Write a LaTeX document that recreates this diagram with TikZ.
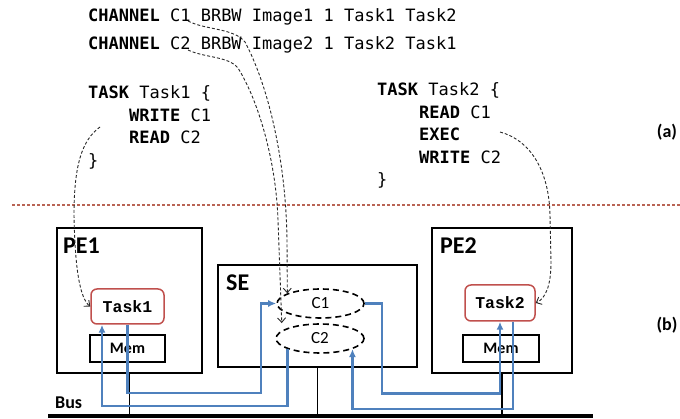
\documentclass[tikz,border=0pt]{standalone}
\usepackage{fontspec}
\setmainfont{Carlito}
\newfontfamily\codefont{DejaVu Sans Mono}
\newfontfamily\taskfont{Liberation Mono}
\usetikzlibrary{arrows.meta,shapes.geometric,calc}
\definecolor{flowblue}{RGB}{79,129,189}
\definecolor{taskred}{RGB}{192,80,77}
\definecolor{sepbrown}{RGB}{185,100,85}
\definecolor{curvegray}{RGB}{40,40,40}
\begin{document}
\begin{tikzpicture}[x=1pt,y=-1pt,
  code/.style={anchor=base west,inner sep=0pt,font=\codefont\fontsize{17}{20}\selectfont},
  unitbox/.style={draw,line width=1.7pt,inner sep=0pt},
  unitlabel/.style={anchor=base west,inner sep=0pt,font=\bfseries\fontsize{24}{26}\selectfont},
  taskbox/.style={draw=taskred,line width=1.5pt,rounded corners=6pt,fill=white,inner sep=0pt,
    font=\taskfont\bfseries\fontsize{16.5}{18}\selectfont},
  membox/.style={draw,line width=1.7pt,inner sep=0pt,minimum height=27pt,font=\bfseries\fontsize{16}{18}\selectfont},
  chan/.style={ellipse,draw,dash pattern=on 6pt off 4pt,line width=1.6pt,inner sep=0pt,
    minimum height=29pt,font=\fontsize{17}{19}\selectfont},
  sidelabel/.style={inner sep=0pt,font=\bfseries\fontsize{18}{20}\selectfont},
  flow/.style={draw=flowblue,line width=2.1pt,-{Latex[length=8pt,width=7pt]}},
  link/.style={line width=1.9pt},
  refcurve/.style={draw=curvegray,line width=0.9pt,dash pattern=on 3pt off 2pt,
    -{Straight Barb[length=4.5pt,width=8pt]}}]
\useasboundingbox (0,0) rectangle (680,419);

% ---- code text (a)
\node[code] (ch1) at (88,22) {\textbf{CHANNEL} C1 BRBW Image1 1 Task1 Task2};
\node[code] (ch2) at (88,50) {\textbf{CHANNEL} C2 BRBW Image2 1 Task2 Task1};
\node[code] (t1a) at (88,99) {\textbf{TASK} Task1 \{};
\node[code] (t1b) at (129,121.5) {\textbf{WRITE} C1};
\node[code] (t1c) at (129,144) {\textbf{READ} C2};
\node[code] (t1d) at (88,166.5) {\}};
\node[code] (t2a) at (377,96) {\textbf{TASK} Task2 \{};
\node[code] (t2b) at (419,118.5) {\textbf{READ} C1};
\node[code] (t2c) at (419,141) {\textbf{EXEC}};
\node[code] (t2d) at (419,163.5) {\textbf{WRITE} C2};
\node[code] (t2e) at (377,186) {\}};
\node[sidelabel] (la) at (667,132) {(a)};
\node[sidelabel] (lb) at (667,325) {(b)};

% ---- separator
\coordinate (sepL) at (12,205);
\coordinate (sepR) at (680,205);
\draw[sepbrown,line width=1.1pt,dash pattern=on 3pt off 2pt] (sepL) -- (sepR);

% ---- units
\node[unitbox,minimum width=145pt,minimum height=145pt] (pe1) at (129.5,300.5) {};
\node[unitbox,minimum width=199pt,minimum height=102pt] (se) at (317.5,316) {};
\node[unitbox,minimum width=140pt,minimum height=145pt] (pe2) at (502,300.5) {};
\node[unitlabel] (pe1l) at (63,254) {PE1};
\node[unitlabel] (sel) at (226,291) {SE};
\node[unitlabel] (pe2l) at (440,254) {PE2};

\node[taskbox,minimum width=73pt,minimum height=35pt] (task1) at (127.5,306.5) {Task1};
\node[membox,minimum width=75pt] (mem1) at (127.5,348.5) {Mem};
\node[taskbox,minimum width=70pt,minimum height=36pt] (task2) at (500,303) {Task2};
\node[membox,minimum width=76pt] (mem2) at (501,348.5) {Mem};

\node[chan,minimum width=87pt] (c1) at (320.5,303.5) {C1};
\node[chan,minimum width=88pt] (c2) at (320,338.5) {C2};

% ---- bus
\coordinate (busL) at (48,416);
\coordinate (busR) at (593,416);
\draw[line width=4pt] (busL) -- (busR);
\node[anchor=base west,inner sep=0pt,font=\bfseries\fontsize{18}{20}\selectfont] (busl) at (55,409) {Bus};
\draw[link] (pe1.south) -- (pe1.south |- busL);
\draw[link] (se.south) -- (se.south |- busL);
\draw[link] (pe2.south) -- (pe2.south |- busL);

% ---- data flow
\draw[flow] (task1.south) -- ++(0,68) -| ($(c1.west)+(-15,0)$) -- (c1.west);
\draw[flow] (c2.198) -- ++(0,57.3) -| ($(task1.south)+(-25.5,0)$);
\draw[flow] (c1.east) -- ++(17,0) -- ++(0,90) -| (task2.south);
\draw[flow] ($(task2.south)+(13,0)$) -- ++(0,87) -| (c2.-18);

% ---- mapping curves
\coordinate (sA) at (100,127);
\coordinate (sB) at (188,21);
\coordinate (sC) at (188,50);
\coordinate (sD) at (500,132);
\draw[refcurve] (sA) .. controls (82,140) and (74,165) .. (74,215)
  .. controls (75,270) and (80,298) .. (task1.west);
\draw[refcurve] (sB) .. controls (205,30) and (234,28) .. (245,42)
  .. controls (268,85) and (286,160) .. (287,240) -- (c1.163);
\draw[refcurve] (sC) .. controls (205,58) and (228,56) .. (238,68)
  .. controls (258,100) and (276,160) .. (278,220) -- ($(c2.165)+(-3,-6)$);
\draw[refcurve] (sD) .. controls (530,140) and (549,170) .. (550,215)
  -- (551,262) .. controls (551,285) and (546,298) .. (task2.east);
\end{tikzpicture}
\end{document}
